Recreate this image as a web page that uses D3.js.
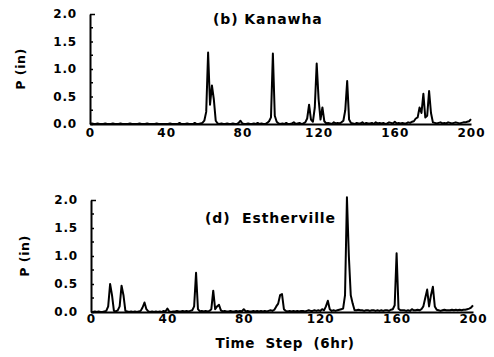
<!DOCTYPE html>
<html>
<head>
<meta charset="utf-8">
<script src="https://cdn.jsdelivr.net/npm/d3@7"></script>
<style>
  body { margin: 0; background: #fff; }
  svg text { font-family: "DejaVu Sans", "Liberation Sans", Arial, sans-serif; font-weight: bold; fill: #000; }
</style>
</head>
<body>
<div id="chart"></div>
<script>
// tick labels
const xTicks = [0, 40, 80, 120, 160, 200];
const yTicks = [0, 0.5, 1.0, 1.5, 2.0];
const yMinorTicks = [0.25, 0.75, 1.25, 1.75];

// (b) Kanawha, precipitation per 6hr step, steps 0..200
const kanawha = [
  0, 0.01, 0, 0, 0.01, 0, 0, 0, 0.01, 0,
  0, 0, 0.01, 0, 0, 0, 0.01, 0, 0, 0,
  0, 0.01, 0, 0, 0, 0, 0.01, 0, 0, 0,
  0.01, 0, 0, 0, 0, 0.01, 0, 0, 0, 0,
  0, 0, 0.01, 0, 0, 0, 0, 0.02, 0, 0,
  0, 0.01, 0, 0, 0, 0.02, 0, 0, 0.01, 0.02,
  0.06, 0.22, 1.3, 0.35, 0.7, 0.45, 0.06, 0.01, 0, 0.01,
  0, 0, 0.01, 0, 0, 0.01, 0, 0, 0.02, 0.06,
  0.01, 0, 0, 0.01, 0, 0, 0.01, 0, 0.02, 0,
  0.01, 0, 0, 0.02, 0.05, 0.12, 1.28, 0.15, 0.04, 0.01,
  0, 0.01, 0, 0.02, 0, 0, 0.01, 0.03, 0, 0.01,
  0.02, 0, 0.01, 0.03, 0.1, 0.35, 0.08, 0.04, 0.3, 1.1,
  0.45, 0.08, 0.3, 0.05, 0.01, 0.02, 0.01, 0, 0.03, 0.01,
  0.02, 0.01, 0.03, 0.06, 0.25, 0.78, 0.08, 0.02, 0.01, 0,
  0.02, 0.01, 0.01, 0.03, 0, 0.02, 0.01, 0.01, 0.02, 0,
  0.03, 0.01, 0.02, 0.01, 0.02, 0, 0.01, 0.03, 0.02, 0.01,
  0.04, 0.01, 0.02, 0.01, 0.02, 0.01, 0.01, 0.03, 0.02, 0.04,
  0.05, 0.1, 0.12, 0.3, 0.2, 0.55, 0.12, 0.15, 0.6, 0.2,
  0.03, 0.02, 0.01, 0.02, 0.03, 0.01, 0.02, 0.01, 0.03, 0.02,
  0.01, 0.02, 0.03, 0.02, 0.01, 0.02, 0.03, 0.03, 0.04, 0.05,
  0.09
];

// (d) Estherville
const estherville = [
  0, 0, 0.01, 0, 0.01, 0, 0, 0.01, 0.02, 0.1,
  0.5, 0.3, 0.02, 0.01, 0.03, 0.1, 0.47, 0.3, 0.02, 0.01,
  0, 0.01, 0, 0.01, 0, 0.01, 0.02, 0.08, 0.17, 0.05,
  0.01, 0, 0.01, 0, 0.01, 0, 0.01, 0, 0.02, 0.01,
  0.06, 0.01, 0, 0.01, 0.01, 0.02, 0.01, 0.01, 0.02, 0.01,
  0.02, 0.01, 0.02, 0.03, 0.1, 0.7, 0.05, 0.01, 0.02, 0.01,
  0.02, 0.01, 0.02, 0.05, 0.38, 0.05, 0.1, 0.13, 0.03, 0.01,
  0.02, 0.01, 0.01, 0.02, 0.01, 0.01, 0.02, 0.01, 0.02, 0.01,
  0.05, 0.01, 0.02, 0.01, 0.01, 0.02, 0.01, 0.02, 0.01, 0.02,
  0.01, 0.02, 0.01, 0.02, 0.03, 0.02, 0.04, 0.1, 0.15, 0.3,
  0.32, 0.05, 0.02, 0.01, 0.02, 0.01, 0.02, 0.01, 0.02, 0.01,
  0.02, 0.02, 0.01, 0.02, 0.03, 0.02, 0.02, 0.03, 0.02, 0.03,
  0.02, 0.05, 0.03, 0.1, 0.2, 0.05, 0.02, 0.03, 0.02, 0.03,
  0.04, 0.05, 0.06, 0.3, 2.05, 1.0, 0.3, 0.15, 0.03, 0.03,
  0.04, 0.03, 0.03, 0.02, 0.03, 0.03, 0.02, 0.03, 0.03, 0.02,
  0.03, 0.02, 0.03, 0.02, 0.03, 0.03, 0.02, 0.04, 0.05, 0.12,
  1.05, 0.06, 0.03, 0.03, 0.03, 0.02, 0.03, 0.02, 0.05, 0.03,
  0.03, 0.04, 0.03, 0.05, 0.1, 0.25, 0.4, 0.1, 0.3, 0.45,
  0.1, 0.04, 0.03, 0.02, 0.03, 0.04, 0.03, 0.03, 0.03, 0.04,
  0.03, 0.04, 0.03, 0.04, 0.03, 0.04, 0.04, 0.05, 0.06, 0.08,
  0.12
];

const width = 494, height = 357;

const svg = d3.select('#chart')
  .append('svg')
  .attr('width', width)
  .attr('height', height);

function drawPanel(values, title, box) {
  const x = d3.scaleLinear().domain([0, 200]).range([box.left, box.right]);
  const y = d3.scaleLinear().domain([0, 2]).range([box.bottom, box.top]);
  const g = svg.append('g');

  // y axis, ticks pointing into the plot
  const yAxis = g.append('g')
    .attr('transform', `translate(${box.left},0)`)
    .call(d3.axisLeft(y).tickValues(yTicks).tickSizeInner(-3).tickSizeOuter(0)
      .tickPadding(13).tickFormat(d3.format('.1f')));
  yAxis.selectAll('.domain').attr('stroke-width', 2);
  yAxis.selectAll('.tick line').attr('stroke-width', 1.5);
  yAxis.selectAll('text').style('font-size', '12px').attr('letter-spacing', '0.8px');
  yAxis.select('.tick:last-of-type line').attr('x2', 5);

  g.append('g').selectAll('line')
    .data(yMinorTicks)
    .enter()
    .append('line')
    .attr('x1', box.left).attr('x2', box.left + 3)
    .attr('y1', d => y(d)).attr('y2', d => y(d))
    .attr('stroke', '#000').attr('stroke-width', 1.5);

  // x axis
  const xAxis = g.append('g')
    .attr('transform', `translate(0,${box.bottom})`)
    .call(d3.axisBottom(x).tickValues(xTicks).tickSize(0).tickPadding(box.xPad));
  xAxis.selectAll('.domain').attr('stroke-width', 2.2);
  xAxis.selectAll('text').style('font-size', '12px').attr('letter-spacing', '1px');

  // data line
  const line = d3.line()
    .x((d, i) => x(i))
    .y(d => y(d));

  g.append('path')
    .datum(values)
    .attr('fill', 'none')
    .attr('stroke', '#000')
    .attr('stroke-width', 2)
    .attr('stroke-linejoin', 'round')
    .attr('d', line);

  // title
  g.append('text')
    .attr('x', box.titleX)
    .attr('y', box.titleY)
    .style('font-size', '14px')
    .attr('letter-spacing', '0.9px')
    .attr('xml:space', 'preserve')
    .text(title);

  // y label
  g.append('text')
    .attr('transform', `translate(${box.ylabX},${(box.top + box.bottom) / 2}) rotate(-90)`)
    .style('text-anchor', 'middle')
    .style('font-size', '12.5px')
    .attr('letter-spacing', '0.6px')
    .text('P (in)');
}

drawPanel(kanawha, '(b) Kanawha', {
  left: 90, right: 471, top: 14, bottom: 124, xPad: 4,
  titleX: 213, titleY: 24, ylabX: 25
});

drawPanel(estherville, '(d)  Estherville', {
  left: 91, right: 473, top: 200, bottom: 312, xPad: 2,
  titleX: 205, titleY: 223, ylabX: 29
});

// x axis label
svg.append('text')
  .attr('x', 285)
  .attr('y', 348)
  .style('text-anchor', 'middle')
  .style('font-size', '13.5px')
  .attr('letter-spacing', '0.6px')
  .attr('xml:space', 'preserve')
  .text('Time  Step  (6hr)');
</script>
</body>
</html>
